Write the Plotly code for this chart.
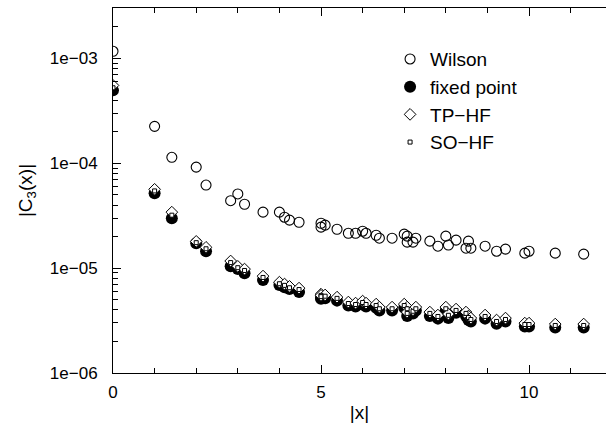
import plotly.graph_objects as go

# |x| positions (lattice distances)
x_vals = [0, 1, 1.414, 2, 2.236, 2.828, 3, 3.162, 3.606, 4, 4.123, 4.243, 4.472,
          5, 5, 5.099, 5.385, 5.657, 5.831, 6, 6.083, 6.325, 6.403, 6.708,
          7, 7.071, 7.071, 7.211, 7.28, 7.616, 7.81, 8, 8.062, 8.246, 8.485,
          8.544, 8.602, 8.944, 9.22, 9.434, 9.899, 10, 10.63, 11.314]

wilson = [1.17e-3, 2.25e-4, 1.14e-4, 9.2e-5, 6.2e-5, 4.4e-5, 5.1e-5, 4.07e-5, 3.42e-5,
          3.42e-5, 3.06e-5, 2.87e-5, 2.74e-5,
          2.68e-5, 2.46e-5, 2.57e-5, 2.35e-5, 2.15e-5, 2.15e-5, 2.25e-5, 2.15e-5, 2.06e-5,
          1.93e-5, 1.93e-5,
          2.11e-5, 2.02e-5, 1.77e-5, 1.77e-5, 1.93e-5, 1.81e-5, 1.62e-5, 2.02e-5, 1.66e-5,
          1.85e-5, 1.55e-5,
          1.81e-5, 1.55e-5, 1.62e-5, 1.45e-5, 1.52e-5, 1.39e-5, 1.45e-5, 1.39e-5, 1.36e-5]

fixed_point = [4.96e-4, 5.18e-5, 2.99e-5, 1.73e-5, 1.45e-5, 1.04e-5, 9.8e-6, 8.96e-6, 7.69e-6,
               6.89e-6, 6.59e-6, 6.31e-6, 5.91e-6,
               5.25e-6, 5.1e-6, 5.15e-6, 4.9e-6, 4.4e-6, 4.3e-6, 4.5e-6, 4.3e-6, 4.2e-6,
               3.95e-6, 3.95e-6,
               4.2e-6, 3.95e-6, 3.5e-6, 3.7e-6, 3.95e-6, 3.5e-6, 3.3e-6, 3.95e-6, 3.35e-6,
               3.75e-6, 3.5e-6,
               3.2e-6, 3.1e-6, 3.3e-6, 2.95e-6, 3.1e-6, 2.78e-6, 2.78e-6, 2.72e-6, 2.72e-6]

tp_hf = [5.53e-4, 5.65e-5, 3.42e-5, 1.8e-5, 1.58e-5, 1.17e-5, 1.04e-5, 9.8e-6, 8.4e-6,
         7.35e-6, 7.05e-6, 6.7e-6, 6.45e-6,
         5.65e-6, 5.5e-6, 5.55e-6, 5.29e-6, 4.75e-6, 4.64e-6, 4.85e-6, 4.64e-6, 4.54e-6,
         4.25e-6, 4.25e-6,
         4.54e-6, 4.25e-6, 3.81e-6, 4.0e-6, 4.25e-6, 3.81e-6, 3.57e-6, 4.25e-6, 3.65e-6,
         4.07e-6, 3.81e-6,
         3.49e-6, 3.34e-6, 3.57e-6, 3.2e-6, 3.34e-6, 2.99e-6, 2.99e-6, 2.93e-6, 2.93e-6]

so_hf = [5.25e-4, 5.45e-5, 3.2e-5, 1.75e-5, 1.53e-5, 1.13e-5, 1.01e-5, 9.5e-6, 8.15e-6,
         7.1e-6, 6.85e-6, 6.5e-6, 6.25e-6,
         5.5e-6, 5.35e-6, 5.4e-6, 5.15e-6, 4.6e-6, 4.5e-6, 4.7e-6, 4.5e-6, 4.4e-6,
         4.1e-6, 4.1e-6,
         4.4e-6, 4.1e-6, 3.7e-6, 3.88e-6, 4.1e-6, 3.7e-6, 3.46e-6, 4.1e-6, 3.55e-6,
         3.95e-6, 3.7e-6,
         3.38e-6, 3.24e-6, 3.46e-6, 3.1e-6, 3.24e-6, 2.9e-6, 2.9e-6, 2.84e-6, 2.84e-6]

y_tickvals = [1e-6, 1e-5, 1e-4, 1e-3]
y_ticktext = ["1e\u221206", "1e\u221205", "1e\u221204", "1e\u221203"]
x_tickvals = [0, 5, 10]

FONT = "Liberation Sans, Arial, Helvetica, sans-serif"

fig = go.Figure()
fig.add_trace(go.Scatter(x=x_vals, y=wilson, mode="markers", name="Wilson",
                         marker=dict(symbol="circle-open", size=10, color="black",
                                     line=dict(width=1.1, color="black"))))
fig.add_trace(go.Scatter(x=x_vals, y=fixed_point, mode="markers", name="fixed point",
                         marker=dict(symbol="circle", size=12, color="black",
                                     line=dict(width=0))))
fig.add_trace(go.Scatter(x=x_vals, y=tp_hf, mode="markers", name="TP\u2212HF",
                         marker=dict(symbol="diamond", size=9, color="white",
                                     line=dict(width=1, color="black"))))
fig.add_trace(go.Scatter(x=x_vals, y=so_hf, mode="markers", name="SO\u2212HF",
                         marker=dict(symbol="square", size=4, color="white",
                                     line=dict(width=1, color="black"))))

fig.update_layout(
    width=606, height=426,
    margin=dict(l=113, r=0, t=8, b=53),
    paper_bgcolor="white", plot_bgcolor="white",
    font=dict(family=FONT, color="black", size=17),
    showlegend=True,
    legend=dict(x=0.562, y=0.912, xanchor="left", yanchor="top",
                bgcolor="rgba(0,0,0,0)", font=dict(size=19, family=FONT),
                itemwidth=30, tracegroupgap=0),
    xaxis=dict(range=[0, 11.85], tickvals=x_tickvals, ticks="inside", ticklen=8,
               tickwidth=1, tickcolor="black", showline=True, linecolor="black",
               linewidth=1, mirror="ticks", showgrid=False, zeroline=False,
               automargin=False, ticklabelstandoff=4,
               minor=dict(dtick=1, ticks="inside", ticklen=5, tickcolor="black",
                          showgrid=False),
               title=dict(text="|x|", font=dict(size=19), standoff=4)),
    yaxis=dict(type="log", range=[-6, -2.519], tickvals=y_tickvals, ticktext=y_ticktext,
               ticks="inside", ticklen=8, tickwidth=1, tickcolor="black",
               showline=True, linecolor="black", linewidth=1, mirror=False,
               showgrid=False, zeroline=False, automargin=False,
               ticklabelstandoff=11,
               minor=dict(dtick="D1", ticks="inside", ticklen=5, tickcolor="black",
                          showgrid=False),
               title=dict(text="|C<sub>3</sub>(x)|", font=dict(size=19), standoff=12)),
)

fig.write_html("out.html", config={"displayModeBar": False},
               post_script="document.body.style.margin='0';")
